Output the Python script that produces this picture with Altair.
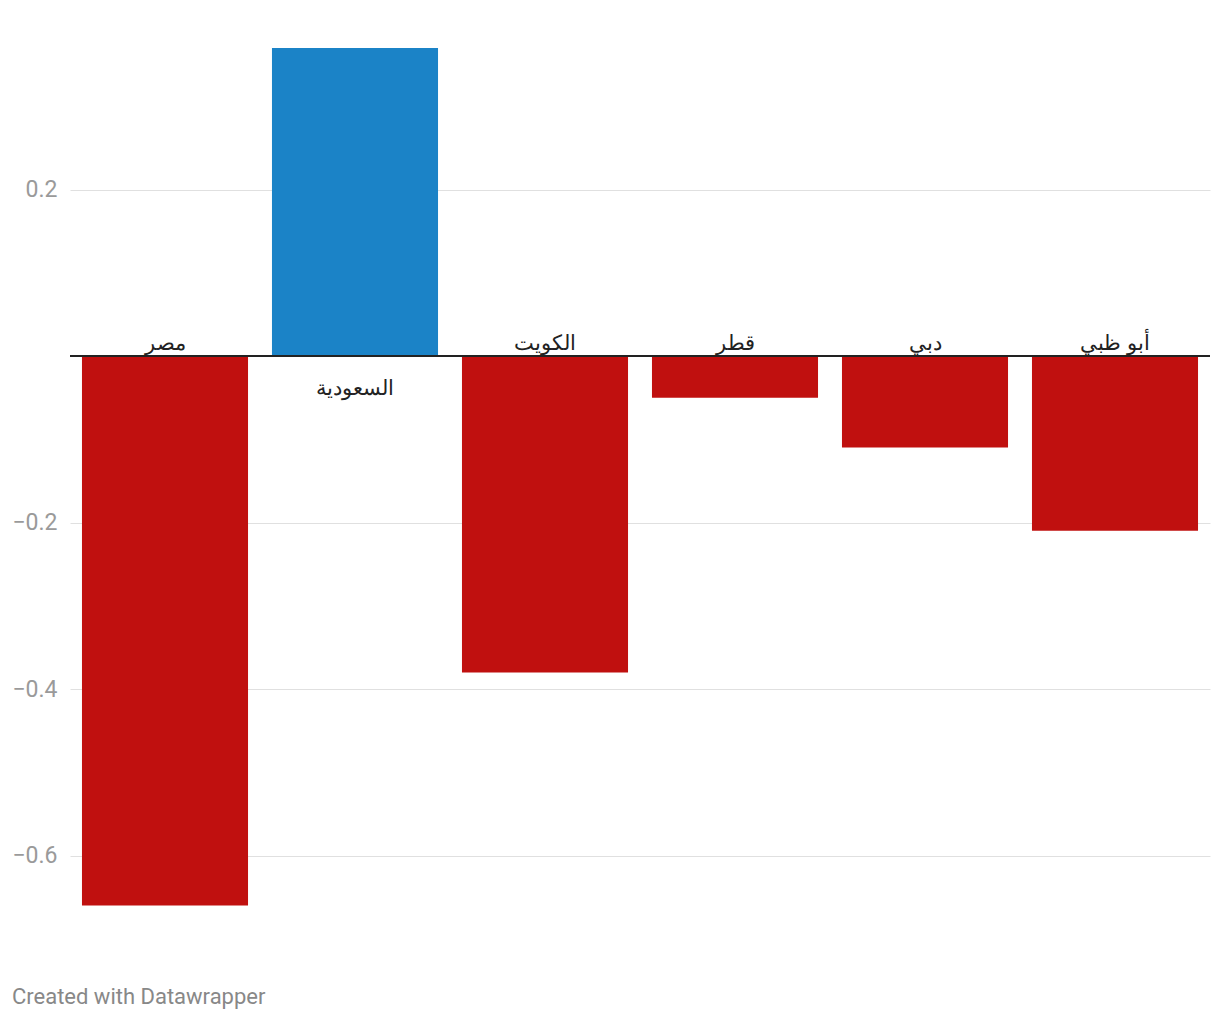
import altair as alt
import pandas as pd

categories = ["مصر", "السعودية", "الكويت", "قطر", "دبي", "أبو ظبي"]
values = [-0.66, 0.37, -0.38, -0.05, -0.11, -0.21]
y_ticks = [-0.6, -0.4, -0.2, 0.2]

df = pd.DataFrame({"country": categories, "value": values})
df["sign"] = ["pos" if v > 0 else "neg" for v in values]

x_enc = alt.X("country:N", sort=categories, axis=None,
              scale=alt.Scale(paddingInner=0.126, paddingOuter=0.063))

base = alt.Chart(df)

bars = base.mark_bar().encode(
    x=x_enc,
    y=alt.Y("value:Q",
            scale=alt.Scale(domain=[-0.66, 0.37], nice=False, zero=True),
            axis=alt.Axis(values=y_ticks, title=None, domain=False, ticks=False,
                          grid=True, gridColor="#e0e0e0", gridWidth=1,
                          labelFont="Roboto", labelFontSize=23, labelColor="#9a9a9a",
                          labelPadding=13, format=".1f")),
    color=alt.Color("sign:N", scale=alt.Scale(domain=["pos", "neg"],
                                              range=["#1b83c7", "#c0100f"]),
                    legend=None),
)

zero_df = pd.DataFrame({"z": [0]})
zero = alt.Chart(zero_df).mark_rule(color="#222222", strokeWidth=2).encode(y="z:Q")

lbl_neg = base.transform_filter("datum.value < 0").mark_text(
    baseline="bottom", dy=-2, fontSize=21, color="#222222", font="Noto Sans"
).encode(x=x_enc, y=alt.datum(0), text="country:N")

lbl_pos = base.transform_filter("datum.value > 0").mark_text(
    baseline="top", dy=22, fontSize=21, color="#222222", font="Noto Sans"
).encode(x=x_enc, y=alt.datum(0), text="country:N")

chart = alt.layer(bars, zero, lbl_neg, lbl_pos).properties(
    width=1140, height=857.5,
    autosize=alt.AutoSizeParams(type="none"),
    padding={"left": 62, "top": 40, "right": 2, "bottom": 112},
    title=alt.TitleParams("Created with Datawrapper", orient="bottom", anchor="start",
                          frame="bounds", font="Roboto", fontSize=22, fontWeight="normal",
                          color="#888888", offset=81),
).configure_view(stroke=None)

chart.save("out.html", embed_options={"renderer": "svg", "actions": False})
